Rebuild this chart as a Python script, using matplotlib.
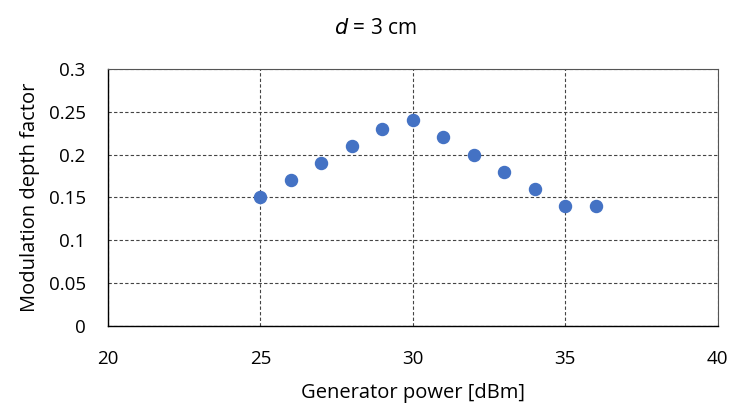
import numpy as np
import matplotlib.pyplot as plt

# measured points
power_dbm = [25, 26, 27, 28, 29, 30, 31, 32, 33, 34, 35, 36]
depth_factor = [0.15, 0.17, 0.19, 0.21, 0.23, 0.24, 0.22, 0.20, 0.18, 0.16, 0.14, 0.14]

x_ticks = [20, 25, 30, 35, 40]
y_ticks = [0, 0.05, 0.1, 0.15, 0.2, 0.25, 0.3]
y_labels = ['0', '0.05', '0.1', '0.15', '0.2', '0.25', '0.3']

plt.rcParams['font.family'] = ['Open Sans', 'DejaVu Sans']

fig = plt.figure(figsize=(7.34, 4.05), dpi=100)
ax = fig.add_axes([0.147, 0.195, 0.831, 0.635])

ax.scatter(power_dbm, depth_factor, s=75, color='#4472C4', zorder=3)

ax.set_xlim(20, 40)
ax.set_ylim(0, 0.3)
ax.set_xticks(x_ticks)
ax.set_yticks(y_ticks)
ax.set_yticklabels(y_labels)
ax.tick_params(length=0, labelsize=13.5)
ax.tick_params(axis='y', pad=16)
ax.tick_params(axis='x', pad=17)

ax.grid(True, color='#444444', linestyle=(0, (3, 2)), linewidth=0.8)
ax.set_axisbelow(True)
for s in ['top', 'right']:
    ax.spines[s].set_color('#555555')
    ax.spines[s].set_linewidth(0.8)
for s in ['left', 'bottom']:
    ax.spines[s].set_color('black')
    ax.spines[s].set_linewidth(1.0)

ax.set_xlabel('Generator power [dBm]', fontsize=14.5, labelpad=11)
ax.set_ylabel('Modulation depth factor', fontsize=14.5, labelpad=6)
fig.text(0.512, 0.93, r'$d$ = 3 cm', ha='center', va='center', fontsize=15,
         math_fontfamily='dejavusans')

fig.savefig('out.png', dpi=100)
